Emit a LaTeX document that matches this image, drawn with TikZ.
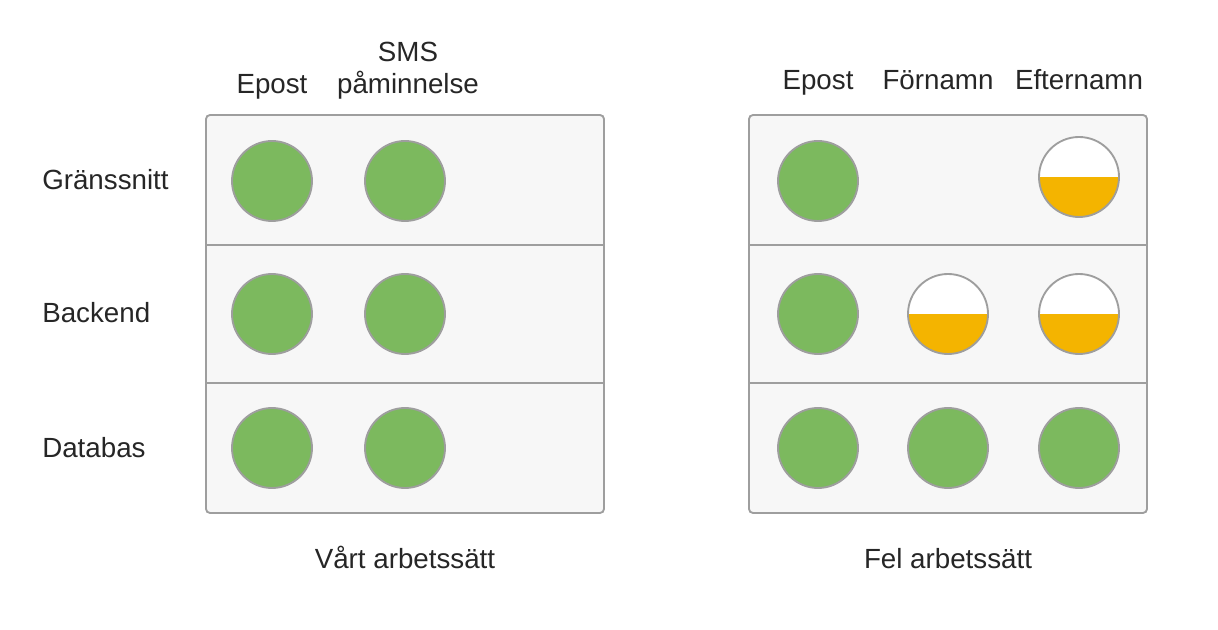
\documentclass[tikz,border=0pt]{standalone}
\usepackage{fontspec}
\setmainfont{Liberation Sans}
\definecolor{okgreen}{HTML}{7CB95E}
\definecolor{warnorange}{HTML}{F4B400}
\definecolor{edgegray}{HTML}{9E9E9E}
\definecolor{panelfill}{HTML}{F7F7F7}
\begin{document}
\begin{tikzpicture}[x=0.75pt,y=-0.75pt,
  panel/.style={draw=edgegray,fill=panelfill,line width=1.4pt,rounded corners=3pt},
  divider/.style={draw=edgegray,line width=1.4pt},
  done/.style={circle,minimum size=80*0.75pt,inner sep=0pt,fill=okgreen,draw=edgegray,line width=1.4pt},
  half/.style={circle,minimum size=80*0.75pt,inner sep=0pt,draw=edgegray,line width=1.4pt,fill=white,
    path picture={\fill[warnorange] (path picture bounding box.west) rectangle (path picture bounding box.south east);}},
  lbl/.style={font=\fontsize{20.8pt}{24pt}\selectfont,text=black!85,inner sep=0pt,text height=15pt,text depth=0pt},
  rowlbl/.style={lbl,anchor=west}
]
\useasboundingbox (0,0) rectangle (1218,630);
% left panel
\path[panel] (206,115) rectangle (604,513);
\draw[divider] (206,245) -- (604,245);
\draw[divider] (206,383) -- (604,383);
% right panel
\path[panel] (749,115) rectangle (1147,513);
\draw[divider] (749,245) -- (1147,245);
\draw[divider] (749,383) -- (1147,383);
% left circles
\node[done] (l11) at (272,181) {};
\node[done] (l12) at (405,181) {};
\node[done] (l21) at (272,314) {};
\node[done] (l22) at (405,314) {};
\node[done] (l31) at (272,448) {};
\node[done] (l32) at (405,448) {};
% right circles
\node[done] (r11) at (818,181) {};
\node[half] (r13) at (1079,177) {};
\node[done] (r21) at (818,314) {};
\node[half] (r22) at (948,314) {};
\node[half] (r23) at (1079,314) {};
\node[done] (r31) at (818,448) {};
\node[done] (r32) at (948,448) {};
\node[done] (r33) at (1079,448) {};
% column labels
\node[lbl] (c1) at (272,84) {Epost};
\node[lbl] (c2a) at (408,52) {SMS};
\node[lbl] (c2b) at (408,84) {påminnelse};
\node[lbl] (d1) at (818,80) {Epost};
\node[lbl] (d2) at (938,80) {Förnamn};
\node[lbl] (d3) at (1079,80) {Efternamn};
% row labels
\node[rowlbl] (g) at (42,180) {Gränssnitt};
\node[rowlbl] (b) at (42,313) {Backend};
\node[rowlbl] (d) at (42,448) {Databas};
% captions
\node[lbl] (cap1) at (405,559) {Vårt arbetssätt};
\node[lbl] (cap2) at (948,559) {Fel arbetssätt};
\end{tikzpicture}
\end{document}
